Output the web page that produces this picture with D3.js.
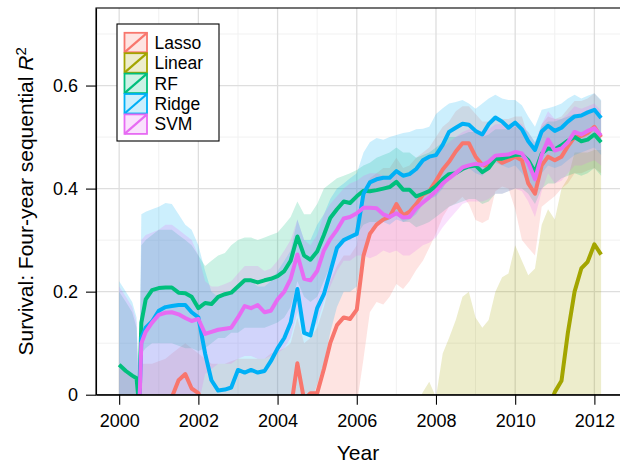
<!DOCTYPE html>
<html>
<head>
<meta charset="utf-8">
<script src="https://cdn.jsdelivr.net/npm/d3@7"></script>
<style>
  html, body { margin: 0; padding: 0; background: #fff; }
  svg { display: block; font-family: "Liberation Sans", Arial, Helvetica, sans-serif; }
</style>
</head>
<body>
<svg id="chart" width="620" height="463"></svg>
<script>
// Sampling times (decimal years)
const years = [
  2000, 2000.17, 2000.33, 2000.44, 2000.5, 2000.56, 2000.67, 2000.83,
  2001, 2001.17, 2001.33, 2001.5, 2001.67, 2001.83,
  2002, 2002.17, 2002.33, 2002.5, 2002.67, 2002.83,
  2003, 2003.17, 2003.33, 2003.5, 2003.67, 2003.83,
  2004, 2004.17, 2004.33, 2004.5, 2004.67, 2004.83,
  2005, 2005.17, 2005.33, 2005.5, 2005.67, 2005.83,
  2006, 2006.17, 2006.33, 2006.5, 2006.67, 2006.83,
  2007, 2007.17, 2007.33, 2007.5, 2007.67, 2007.83,
  2008, 2008.17, 2008.33, 2008.5, 2008.67, 2008.83,
  2009, 2009.17, 2009.33, 2009.5, 2009.67, 2009.83,
  2010, 2010.17, 2010.33, 2010.5, 2010.67, 2010.83,
  2011, 2011.17, 2011.33, 2011.5, 2011.67, 2011.83,
  2012, 2012.17
];

const models = ["Lasso", "Linear", "RF", "Ridge", "SVM"];
const colors = ["#F8766D", "#A3A500", "#00BF7D", "#00B0F6", "#E76BF3"];

// Mean sequential R^2 per model
const lassoFit = [
  -0.1, -0.1, -0.1, -0.1, -0.1, -0.1, -0.1, -0.1,
  -0.1, -0.06, -0.005, 0.028, 0.04, 0.012,
  0.003, -0.03, -0.06, -0.08, -0.08, -0.08,
  -0.08, -0.08, -0.08, -0.08, -0.08, -0.08,
  -0.08, -0.06, -0.03, 0.061, -0.01, 0.003,
  0.003, 0.05, 0.1, 0.135, 0.15, 0.147,
  0.165, 0.27, 0.312, 0.33, 0.34, 0.345,
  0.37, 0.348, 0.355, 0.37, 0.388, 0.395,
  0.415, 0.437, 0.452, 0.472, 0.488, 0.488,
  0.462, 0.446, 0.443, 0.46, 0.45, 0.455,
  0.462, 0.455, 0.41, 0.39, 0.445, 0.462,
  0.455, 0.462, 0.482, 0.5, 0.502, 0.508,
  0.52, 0.5
];
const linearFit = [
  -0.1, -0.1, -0.1, -0.1, -0.1, -0.1, -0.1, -0.1,
  -0.1, -0.1, -0.1, -0.1, -0.1, -0.1,
  -0.1, -0.1, -0.1, -0.1, -0.1, -0.1,
  -0.1, -0.1, -0.1, -0.1, -0.1, -0.1,
  -0.1, -0.1, -0.1, -0.1, -0.1, -0.1,
  -0.1, -0.1, -0.1, -0.1, -0.1, -0.1,
  -0.1, -0.1, -0.1, -0.1, -0.1, -0.1,
  -0.1, -0.1, -0.1, -0.1, -0.1, -0.1,
  -0.1, -0.1, -0.1, -0.1, -0.1, -0.1,
  -0.1, -0.1, -0.1, -0.1, -0.1, -0.1,
  -0.1, -0.1, -0.1, -0.1, -0.1, -0.03,
  0.005, 0.027, 0.12, 0.2, 0.245, 0.258,
  0.292, 0.272
];
const rfFit = [
  0.058, 0.046, 0.037, 0.032, -0.02, 0.14, 0.185, 0.203,
  0.207, 0.208, 0.208, 0.198, 0.197, 0.19,
  0.168, 0.178, 0.176, 0.19, 0.195, 0.198,
  0.21, 0.222, 0.222, 0.218, 0.222, 0.225,
  0.23, 0.24, 0.26, 0.307, 0.27, 0.262,
  0.278, 0.31, 0.343, 0.36, 0.375, 0.372,
  0.385, 0.396, 0.395, 0.397, 0.4, 0.403,
  0.413, 0.398, 0.398, 0.385, 0.39, 0.395,
  0.405, 0.418, 0.428, 0.43, 0.438, 0.443,
  0.445, 0.432, 0.44, 0.458, 0.458, 0.462,
  0.465, 0.466, 0.455, 0.432, 0.468, 0.478,
  0.476, 0.484, 0.493, 0.5, 0.492, 0.495,
  0.505, 0.49
];
const ridgeFit = [
  -0.05, -0.05, -0.05, -0.05, -0.05, 0.11, 0.13, 0.142,
  0.163, 0.17, 0.172, 0.174, 0.174, 0.16,
  0.15, 0.08, 0.028, 0.008, 0.01, 0.014,
  0.048, 0.043, 0.048, 0.043, 0.046, 0.065,
  0.09, 0.11, 0.14, 0.205, 0.12, 0.115,
  0.168, 0.195, 0.238, 0.285, 0.3, 0.306,
  0.312, 0.39, 0.412, 0.418, 0.421, 0.421,
  0.434, 0.425, 0.428, 0.438, 0.455, 0.462,
  0.465, 0.485, 0.51, 0.518, 0.526, 0.524,
  0.512, 0.505, 0.525, 0.538, 0.53, 0.518,
  0.528, 0.515, 0.492, 0.475, 0.511, 0.522,
  0.512, 0.518, 0.53, 0.54, 0.542, 0.548,
  0.553, 0.537
];
const svmFit = [
  -0.05, -0.05, -0.05, -0.05, -0.05, 0.1, 0.122, 0.14,
  0.155, 0.159, 0.16, 0.156, 0.149, 0.143,
  0.147, 0.118, 0.122, 0.126, 0.128, 0.13,
  0.15, 0.172, 0.168, 0.174, 0.16, 0.163,
  0.185, 0.2, 0.225, 0.272, 0.225, 0.222,
  0.24, 0.28, 0.302, 0.32, 0.342, 0.345,
  0.352, 0.363, 0.363, 0.362, 0.35, 0.345,
  0.352, 0.344, 0.345, 0.362, 0.373, 0.383,
  0.395, 0.41, 0.42, 0.43, 0.441, 0.445,
  0.448, 0.446, 0.452, 0.464, 0.465, 0.466,
  0.471, 0.468, 0.45, 0.418, 0.465, 0.495,
  0.474, 0.478, 0.49, 0.51, 0.505, 0.512,
  0.517, 0.503
];

// Lower / upper bounds of the bands
const lassoLow = [
  -0.1, -0.1, -0.1, -0.1, -0.1, -0.1, -0.1, -0.1,
  -0.1, -0.1, -0.1, -0.1, -0.1, -0.1,
  -0.1, -0.1, -0.1, -0.1, -0.1, -0.1,
  -0.1, -0.1, -0.1, -0.1, -0.1, -0.1,
  -0.1, -0.1, -0.1, -0.1, -0.1, -0.1,
  -0.1, -0.1, -0.1, -0.1, -0.1, -0.1,
  -0.02, 0.07, 0.16, 0.18, 0.175, 0.19,
  0.215, 0.205, 0.22, 0.242, 0.26, 0.285,
  0.313, 0.345, 0.365, 0.372, 0.384, 0.37,
  0.339, 0.333, 0.34, 0.395, 0.404, 0.4,
  0.36, 0.3, 0.285, 0.27, 0.365, 0.375,
  0.385, 0.4, 0.41, 0.43, 0.43, 0.435,
  0.44, 0.43
];
const lassoHigh = [
  0.05, 0.05, 0.04, 0.03, -0.01, 0.06, 0.06, 0.06,
  0.065, 0.07, 0.08, 0.09, 0.1, 0.09,
  0.08, 0.07, 0.06, 0.06, 0.06, 0.065,
  0.07, 0.07, 0.07, 0.07, 0.07, 0.08,
  0.085, 0.09, 0.1, 0.15, 0.1, 0.11,
  0.13, 0.17, 0.22, 0.25, 0.27, 0.27,
  0.29, 0.38, 0.42, 0.43, 0.44, 0.44,
  0.46, 0.44, 0.445, 0.46, 0.47, 0.48,
  0.5, 0.52, 0.53, 0.55, 0.56, 0.56,
  0.545, 0.53, 0.53, 0.54, 0.535, 0.535,
  0.54, 0.54, 0.5, 0.48, 0.525, 0.54,
  0.535, 0.54, 0.555, 0.57, 0.57, 0.575,
  0.585, 0.57
];
const linearLow = [
  -0.5, -0.5, -0.5, -0.5, -0.5, -0.5, -0.5, -0.5,
  -0.5, -0.5, -0.5, -0.5, -0.5, -0.5,
  -0.5, -0.5, -0.5, -0.5, -0.5, -0.5,
  -0.5, -0.5, -0.5, -0.5, -0.5, -0.5,
  -0.5, -0.5, -0.5, -0.5, -0.5, -0.5,
  -0.5, -0.5, -0.5, -0.5, -0.5, -0.5,
  -0.5, -0.5, -0.5, -0.5, -0.5, -0.5,
  -0.5, -0.5, -0.5, -0.5, -0.5, -0.5,
  -0.5, -0.5, -0.5, -0.5, -0.5, -0.5,
  -0.5, -0.5, -0.5, -0.5, -0.5, -0.5,
  -0.5, -0.5, -0.5, -0.5, -0.5, -0.5,
  -0.5, -0.5, -0.5, -0.5, -0.5, -0.5,
  -0.5, -0.5
];
const linearHigh = [
  -0.1, -0.1, -0.1, -0.1, -0.1, -0.1, -0.1, -0.1,
  -0.1, -0.1, -0.1, -0.1, -0.1, -0.1,
  -0.1, -0.1, -0.1, -0.1, -0.1, -0.1,
  -0.1, -0.1, -0.1, -0.1, -0.1, -0.1,
  -0.1, -0.1, -0.1, -0.1, -0.1, -0.1,
  -0.1, -0.1, -0.1, -0.1, -0.1, -0.1,
  -0.1, -0.1, -0.1, -0.1, -0.1, -0.1,
  -0.1, -0.1, -0.1, -0.02, 0.005, 0.025,
  -0.005, 0.08, 0.11, 0.145, 0.19, 0.2,
  0.15, 0.13, 0.145, 0.2, 0.228, 0.235,
  0.29, 0.26, 0.232, 0.245, 0.33, 0.36,
  0.34, 0.4, 0.42, 0.47, 0.47, 0.47,
  0.475, 0.475
];
const rfLow = [
  -0.1, -0.1, -0.1, -0.1, -0.1, 0.08, 0.09, 0.1,
  0.1, 0.1, 0.1, 0.095, 0.09, 0.09,
  0.085, 0.09, 0.1, 0.11, 0.11, 0.12,
  0.12, 0.13, 0.13, 0.13, 0.13, 0.135,
  0.14, 0.15, 0.17, 0.22, 0.19, 0.18,
  0.19, 0.22, 0.25, 0.28, 0.3, 0.3,
  0.31, 0.33, 0.335, 0.335, 0.335, 0.34,
  0.35, 0.335, 0.335, 0.325, 0.33, 0.335,
  0.345, 0.355, 0.365, 0.37, 0.375, 0.38,
  0.38, 0.37, 0.375, 0.39, 0.39, 0.395,
  0.4, 0.4, 0.39, 0.37, 0.4, 0.41,
  0.41, 0.42, 0.425, 0.43, 0.425, 0.43,
  0.44, 0.425
];
const rfHigh = [
  0.2, 0.18, 0.16, 0.13, -0.01, 0.29, 0.3, 0.31,
  0.32, 0.32, 0.32, 0.31, 0.3, 0.29,
  0.27, 0.25, 0.26, 0.27, 0.275, 0.29,
  0.3, 0.305, 0.305, 0.3, 0.305, 0.31,
  0.315, 0.33, 0.345, 0.375, 0.35, 0.35,
  0.37, 0.4, 0.41, 0.42, 0.425, 0.43,
  0.436, 0.445, 0.45, 0.46, 0.465, 0.47,
  0.48, 0.47, 0.47, 0.46, 0.465, 0.47,
  0.48, 0.49, 0.5, 0.5, 0.505, 0.51,
  0.51, 0.5, 0.505, 0.515, 0.515, 0.515,
  0.52, 0.52, 0.51, 0.49, 0.52, 0.53,
  0.53, 0.535, 0.54, 0.545, 0.54, 0.545,
  0.55, 0.54
];
const ridgeLow = [
  -0.1, -0.1, -0.1, -0.1, -0.1, -0.1, -0.1, -0.1,
  -0.1, -0.1, -0.1, -0.1, -0.1, -0.1,
  -0.1, -0.1, -0.1, -0.1, -0.1, -0.1,
  -0.1, -0.1, -0.1, -0.1, -0.1, -0.1,
  -0.1, -0.1, -0.1, -0.05, -0.05, -0.02,
  0.02, 0.06, 0.12, 0.17, 0.2, 0.2,
  0.21, 0.28, 0.32, 0.33, 0.335, 0.33,
  0.34, 0.335, 0.34, 0.35, 0.37, 0.38,
  0.385, 0.4, 0.42, 0.43, 0.44, 0.44,
  0.43, 0.425, 0.44, 0.45, 0.445, 0.44,
  0.445, 0.43, 0.41, 0.4, 0.43, 0.445,
  0.44, 0.445, 0.455, 0.465, 0.47, 0.475,
  0.48, 0.465
];
const ridgeHigh = [
  0.22, 0.2, 0.18, 0.15, -0.01, 0.35, 0.355, 0.36,
  0.365, 0.372, 0.37, 0.35, 0.33, 0.32,
  0.29, 0.24, 0.2, 0.19, 0.2, 0.2,
  0.21, 0.22, 0.22, 0.21, 0.21, 0.22,
  0.24, 0.26, 0.28, 0.34, 0.3, 0.3,
  0.33, 0.35, 0.38, 0.4, 0.41, 0.42,
  0.43, 0.47, 0.49, 0.498, 0.495, 0.5,
  0.504, 0.508, 0.51, 0.515, 0.516, 0.52,
  0.545, 0.556, 0.565, 0.568, 0.572, 0.565,
  0.555, 0.565, 0.575, 0.582, 0.575, 0.572,
  0.572, 0.562, 0.54, 0.52, 0.553, 0.556,
  0.56, 0.565, 0.575, 0.582, 0.575, 0.58,
  0.585, 0.572
];
const svmLow = [
  -0.1, -0.1, -0.1, -0.1, -0.1, -0.1, -0.1, -0.1,
  -0.1, -0.1, -0.1, -0.1, -0.1, -0.1,
  -0.02, 0.04, 0.05, 0.06, 0.06, 0.06,
  0.07, 0.075, 0.075, 0.07, 0.07, 0.075,
  0.08, 0.09, 0.11, 0.16, 0.12, 0.12,
  0.14, 0.18, 0.21, 0.24, 0.26, 0.26,
  0.27, 0.27, 0.265, 0.27, 0.28, 0.275,
  0.28, 0.27, 0.27, 0.28, 0.29, 0.295,
  0.305, 0.325, 0.34, 0.355, 0.37, 0.375,
  0.375, 0.375, 0.38, 0.39, 0.39, 0.395,
  0.4, 0.395, 0.375, 0.345, 0.395, 0.43,
  0.41, 0.415, 0.43, 0.445, 0.445, 0.45,
  0.455, 0.445
];
const svmHigh = [
  0.21, 0.19, 0.17, 0.14, -0.01, 0.3, 0.31, 0.315,
  0.32, 0.33, 0.33, 0.32, 0.31, 0.3,
  0.27, 0.22, 0.21, 0.21, 0.215, 0.22,
  0.235, 0.25, 0.25, 0.25, 0.24, 0.245,
  0.26, 0.28, 0.3, 0.34, 0.3, 0.29,
  0.31, 0.35, 0.37, 0.385, 0.4, 0.41,
  0.415, 0.425, 0.43, 0.43, 0.425, 0.42,
  0.43, 0.42, 0.425, 0.44, 0.45, 0.46,
  0.47, 0.48, 0.49, 0.5, 0.51, 0.515,
  0.515, 0.51, 0.515, 0.525, 0.525, 0.525,
  0.53, 0.525, 0.51, 0.49, 0.525, 0.55,
  0.535, 0.535, 0.545, 0.56, 0.555, 0.56,
  0.565, 0.55
];

// Axis ticks and grid positions
const xTicks = [2000, 2002, 2004, 2006, 2008, 2010, 2012];
const xMinor = [2001, 2003, 2005, 2007, 2009, 2011];
const yTicks = [0, 0.2, 0.4, 0.6];
const yTickLabels = ["0", "0.2", "0.4", "0.6"];
const yMinor = [0.1, 0.3, 0.5, 0.7];

const fits = [lassoFit, linearFit, rfFit, ridgeFit, svmFit];
const lows = [lassoLow, linearLow, rfLow, ridgeLow, svmLow];
const highs = [lassoHigh, linearHigh, rfHigh, ridgeHigh, svmHigh];

const series = models.map((name, k) => ({
  name,
  color: colors[k],
  points: years.map((yr, i) => ({ year: yr, fit: fits[k][i], lo: lows[k][i], hi: highs[k][i] }))
}));

// ---- layout ----
const panel = { left: 96, top: 8, right: 620, bottom: 394.7 };
const x = d3.scaleLinear().domain([1999.415, 2012.647]).range([panel.left, panel.right]);
const y = d3.scaleLinear().domain([0, 0.7505]).range([panel.bottom, panel.top]);

const svg = d3.select("#chart");
svg.append("rect").attr("width", 620).attr("height", 463).attr("fill", "#fff");

svg.append("defs").append("clipPath").attr("id", "panel-clip")
  .append("rect")
  .attr("x", panel.left).attr("y", panel.top)
  .attr("width", panel.right - panel.left).attr("height", panel.bottom - panel.top);

// grid
const grid = svg.append("g");
grid.selectAll("line.xminor").data(xMinor).join("line")
  .attr("x1", d => x(d)).attr("x2", d => x(d))
  .attr("y1", panel.top).attr("y2", panel.bottom)
  .attr("stroke", "#f1f1f1").attr("stroke-width", 1);
grid.selectAll("line.yminor").data(yMinor).join("line")
  .attr("x1", panel.left).attr("x2", panel.right)
  .attr("y1", d => y(d)).attr("y2", d => y(d))
  .attr("stroke", "#f1f1f1").attr("stroke-width", 1);
grid.selectAll("line.xmajor").data(xTicks).join("line")
  .attr("x1", d => x(d)).attr("x2", d => x(d))
  .attr("y1", panel.top).attr("y2", panel.bottom)
  .attr("stroke", "#dedede").attr("stroke-width", 1.3);
grid.selectAll("line.ymajor").data(yTicks.filter(v => v > 0)).join("line")
  .attr("x1", panel.left).attr("x2", panel.right)
  .attr("y1", d => y(d)).attr("y2", d => y(d))
  .attr("stroke", "#dedede").attr("stroke-width", 1.3);

// bands and lines
const plot = svg.append("g").attr("clip-path", "url(#panel-clip)");
const area = d3.area().x(d => x(d.year)).y0(d => y(d.lo)).y1(d => y(d.hi));
const line = d3.line().x(d => x(d.year)).y(d => y(d.fit));

plot.selectAll("path.band").data(series).join("path")
  .attr("class", "band")
  .attr("d", s => area(s.points))
  .attr("fill", s => s.color)
  .attr("fill-opacity", 0.2)
  .attr("stroke", "none");

plot.selectAll("path.fit").data(series).join("path")
  .attr("class", "fit")
  .attr("d", s => line(s.points))
  .attr("fill", "none")
  .attr("stroke", s => s.color)
  .attr("stroke-width", 4)
  .attr("stroke-linejoin", "round")
  .attr("stroke-linecap", "butt");

// panel border (top/left), bottom axis line
svg.append("rect")
  .attr("x", panel.left).attr("y", panel.top)
  .attr("width", panel.right - panel.left + 2).attr("height", panel.bottom - panel.top)
  .attr("fill", "none").attr("stroke", "#000").attr("stroke-width", 1.1);

// axes
const xAxis = d3.axisBottom(x).tickValues(xTicks).tickFormat(d3.format("d"))
  .tickSize(10).tickSizeOuter(0).tickPadding(10);
const gx = svg.append("g").attr("transform", `translate(0,${panel.bottom})`).call(xAxis);
gx.select(".domain").attr("stroke", "#000").attr("stroke-width", 1.1);
gx.selectAll(".tick line").attr("stroke", "#000").attr("stroke-width", 1.1);
gx.selectAll(".tick text").attr("fill", "#000").style("font-size", "18px")
  .style("font-family", "'Liberation Sans', Arial, sans-serif");

const yAxis = d3.axisLeft(y).tickValues(yTicks).tickFormat((d, i) => yTickLabels[i])
  .tickSize(10).tickSizeOuter(0).tickPadding(8);
const gy = svg.append("g").attr("transform", `translate(${panel.left},0)`).call(yAxis);
gy.select(".domain").attr("stroke", "#000").attr("stroke-width", 1.1);
gy.selectAll(".tick line").attr("stroke", "#000").attr("stroke-width", 1.1);
gy.selectAll(".tick text").attr("fill", "#000").style("font-size", "18px")
  .style("font-family", "'Liberation Sans', Arial, sans-serif");

// axis titles
svg.append("text")
  .attr("x", (panel.left + panel.right) / 2).attr("y", 460)
  .attr("text-anchor", "middle").style("font-size", "21px").attr("fill", "#000")
  .text("Year");

const yt = svg.append("text")
  .attr("transform", `translate(33,${(panel.top + panel.bottom) / 2}) rotate(-90)`)
  .attr("text-anchor", "middle").style("font-size", "21px").attr("fill", "#000");
yt.append("tspan").text("Survival: Four-year sequential ");
yt.append("tspan").style("font-style", "italic").text("R");
yt.append("tspan").attr("dy", "-0.45em").style("font-size", "15px").text("2");

// legend
const legend = svg.append("g");
legend.append("rect")
  .attr("x", 117).attr("y", 24).attr("width", 102).attr("height", 117)
  .attr("fill", "#fff").attr("stroke", "#000").attr("stroke-width", 1.1);
const keyW = 22.5, keyH = 19.5, rowH = 20.4, keyX = 124.5, keyY0 = 32.8;
const rows = legend.selectAll("g.key").data(series).join("g")
  .attr("class", "key")
  .attr("transform", (d, i) => `translate(${keyX},${keyY0 + i * rowH})`);
rows.append("rect")
  .attr("x", 0).attr("y", 0).attr("width", keyW).attr("height", keyH)
  .attr("fill", d => d.color).attr("fill-opacity", 0.2)
  .attr("stroke", d => d.color).attr("stroke-width", 1.8);
rows.append("line")
  .attr("x1", 0).attr("y1", keyH).attr("x2", keyW).attr("y2", 0)
  .attr("stroke", d => d.color).attr("stroke-width", 2.2);
rows.append("text")
  .attr("x", 30).attr("y", keyH / 2 + 6.2)
  .style("font-size", "17.5px").attr("fill", "#000")
  .text(d => d.name);
</script>
</body>
</html>
